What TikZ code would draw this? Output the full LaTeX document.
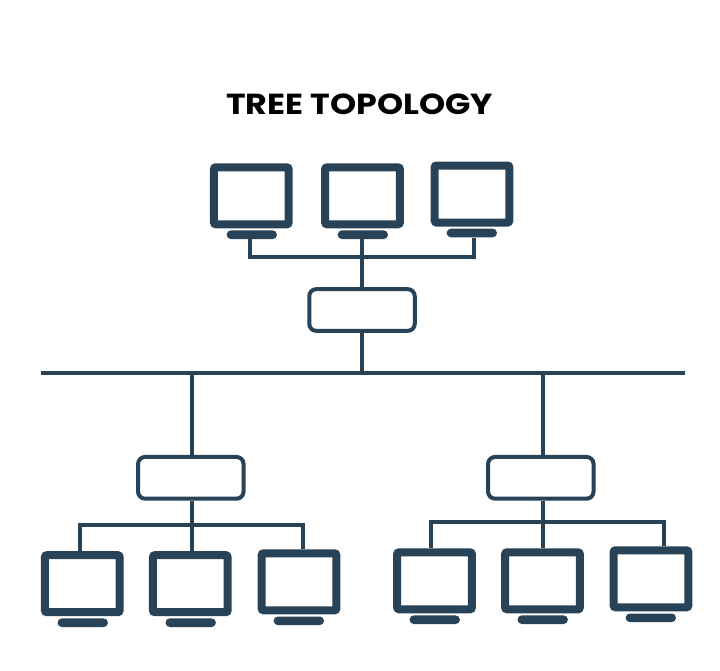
\documentclass[tikz,border=0pt]{standalone}
\usepackage{fontspec}
\setmainfont{Poppins}[FakeStretch=1.147]
\usetikzlibrary{positioning}
\definecolor{netblue}{HTML}{284357}

\begin{document}
\begin{tikzpicture}[
    x=1pt, y=-1pt,
    monitor/.style={draw=netblue, rectangle, line width=8pt, rounded corners=2pt, inner sep=0pt, minimum width=74.7pt, minimum height=57pt},
    stand/.style={fill=netblue, rectangle, rounded corners=4.2pt, inner sep=0pt, minimum width=50.3pt, minimum height=8.6pt},
    hub/.style={draw=netblue, rectangle, line width=4pt, rounded corners=7pt, inner sep=0pt, minimum width=105.5pt, minimum height=41.7pt},
    link/.style={draw=netblue, line width=4pt},
    bus/.style={draw=netblue, line width=3.6pt}
]

    \path[fill=white, use as bounding box] (0,0) rectangle (720,670);

    % --- Title ---
    \node[font=\bfseries\fontsize{29}{32}\selectfont] (title) at (359.7,104.5) {TREE TOPOLOGY};

    % --- Top group ---
    \node[monitor] (tm1) at (251.3,195.8) {};
    \node[monitor] (tm2) at (362.5,195.8) {};
    \node[monitor] (tm3) at (472,194) {};
    \node[stand] (ts1) at (251.8,234.7) {};
    \node[stand] (ts2) at (362.8,234.7) {};
    \node[stand] (ts3) at (471.8,233) {};
    \node[hub] (htop) at (362,310) {};

    % --- Left group ---
    \node[hub] (hleft) at (190.8,477.8) {};
    \node[monitor] (lm1) at (82.3,583.7) {};
    \node[monitor] (lm2) at (190.3,583.7) {};
    \node[monitor] (lm3) at (299,581.8) {};
    \node[stand] (ls1) at (82.7,622.7) {};
    \node[stand] (ls2) at (190.7,622.7) {};
    \node[stand] (ls3) at (298.8,620.8) {};

    % --- Right group ---
    \node[hub] (hright) at (540.8,477.8) {};
    \node[monitor] (rm1) at (434.5,580.8) {};
    \node[monitor] (rm2) at (542.5,580.8) {};
    \node[monitor] (rm3) at (651,578.8) {};
    \node[stand] (rs1) at (434.7,619.7) {};
    \node[stand] (rs2) at (542.7,619.7) {};
    \node[stand] (rs3) at (650.8,617.8) {};

    % Junction points
    \coordinate (tj1) at (250,256.7);
    \coordinate (tj2) at (362,256.7);
    \coordinate (tj3) at (474.3,256.7);
    \coordinate (busl) at (41,373);
    \coordinate (busr) at (685,373);
    \coordinate (busa) at (192,373);
    \coordinate (busb) at (362,373);
    \coordinate (busc) at (543,373);
    \coordinate (lj1) at (80,525);
    \coordinate (lj2) at (192,525);
    \coordinate (lj3) at (303,525);
    \coordinate (rj1) at (431,521.7);
    \coordinate (rj2) at (543,521.7);
    \coordinate (rj3) at (664,521.7);

    % Top monitors to hub
    \draw[link] (tj1 |- ts1.south) -- (tj1) -- (tj3) -- (tj3 |- ts3.south);
    \draw[link] (tj2 |- ts2.south) -- (tj2 |- htop.north);

    % Backbone
    \draw[bus] (busl) -- (busr);
    \draw[link] (busb |- htop.south) -- (busb);
    \draw[link] (busa) -- (busa |- hleft.north);
    \draw[link] (busc) -- (busc |- hright.north);

    % Left hub to monitors
    \draw[link] (lj1 |- lm1.north) -- (lj1) -- (lj3) -- (lj3 |- lm3.north);
    \draw[link] (lj2 |- hleft.south) -- (lj2 |- lm2.north);

    % Right hub to monitors
    \draw[link] (rj1 |- rm1.north) -- (rj1) -- (rj3) -- (rj3 |- rm3.north);
    \draw[link] (rj2 |- hright.south) -- (rj2 |- rm2.north);

\end{tikzpicture}
\end{document}
